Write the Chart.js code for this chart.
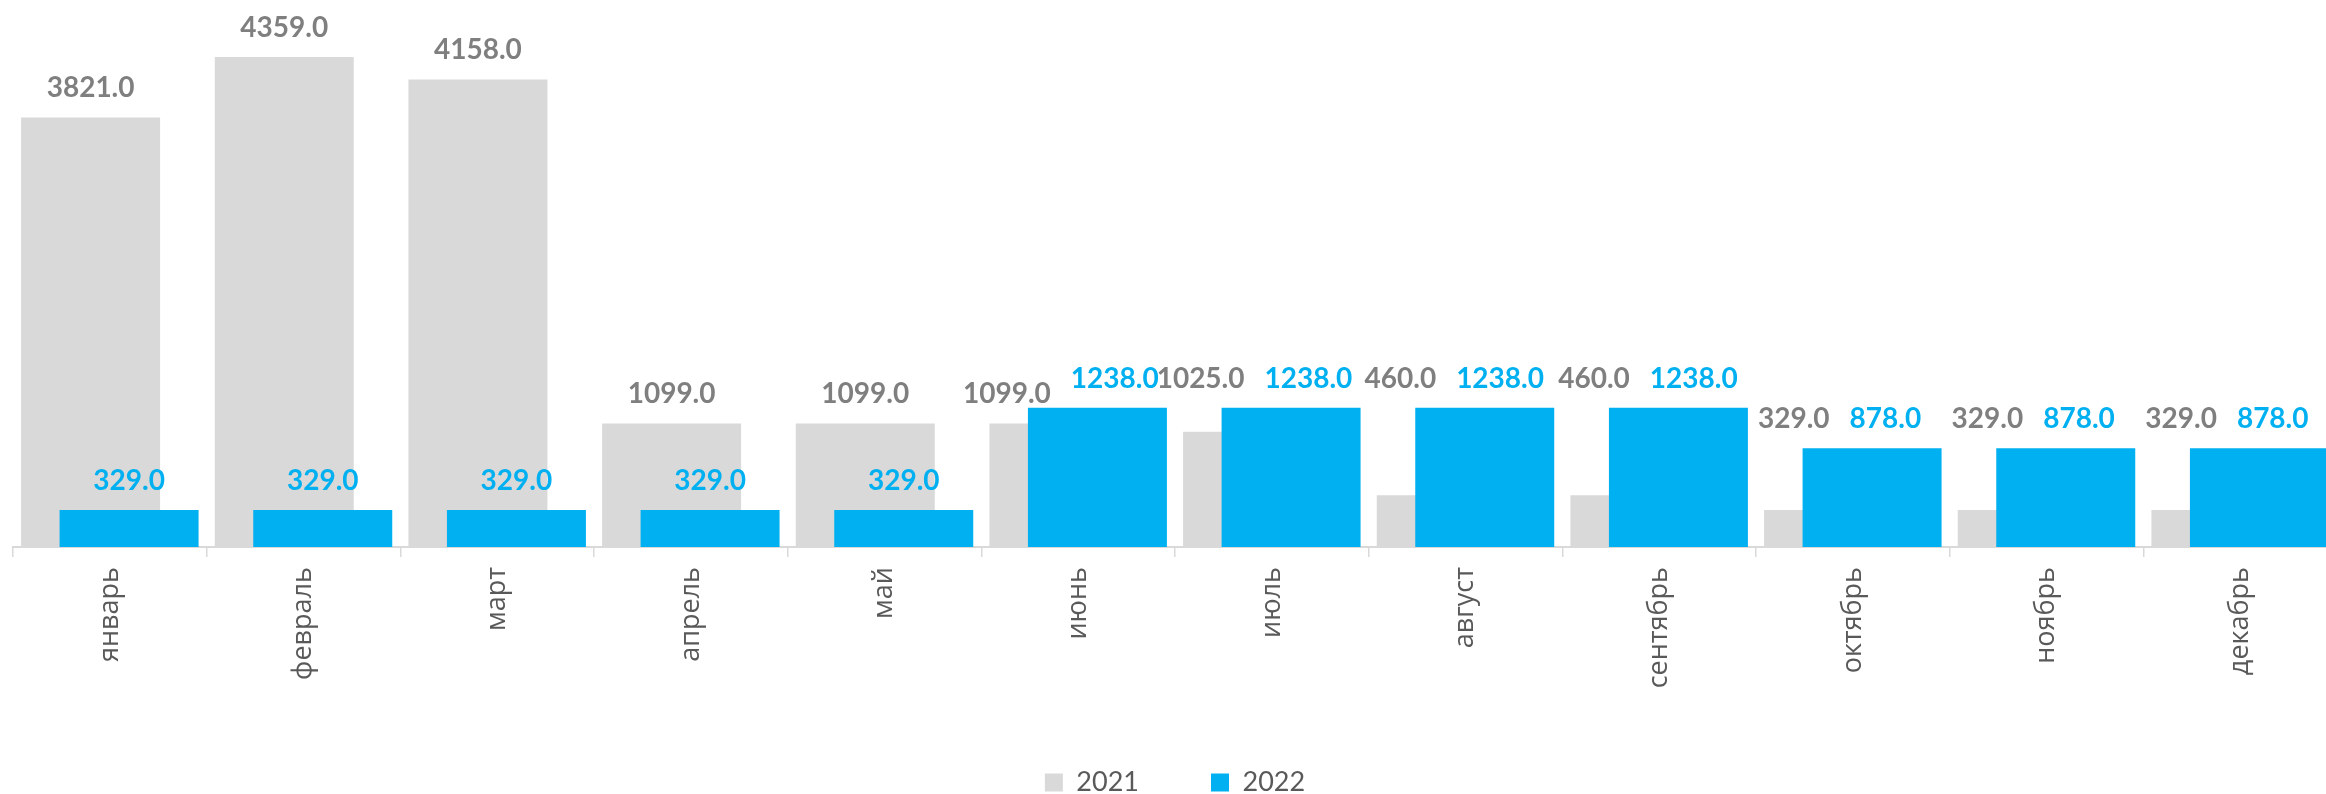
<!DOCTYPE html>
<html>
<head>
<meta charset="utf-8">
<script src="https://cdn.jsdelivr.net/npm/chart.js@4/dist/chart.umd.min.js"></script>
<style>
  html, body { margin: 0; padding: 0; background: #fff; overflow: hidden; }
  #wrap { width: 2340px; height: 794px; }
</style>
</head>
<body>
<div id="wrap"><canvas id="salesChart"></canvas></div>
<script>
  "use strict";

  // -- Data --------------------------------------------------------------
  const months = [
    "январь", "февраль", "март", "апрель", "май", "июнь",
    "июль", "август", "сентябрь", "октябрь", "ноябрь", "декабрь",
  ];
  const values2021 = [3821, 4359, 4158, 1099, 1099, 1099, 1025, 460, 460, 329, 329, 329];
  const values2022 = [329, 329, 329, 329, 329, 1238, 1238, 1238, 1238, 878, 878, 878];
  const seriesNames = ["2021", "2022"];

  const GRAY = "#D9D9D9";
  const BLUE = "#00B0F0";
  const LABEL_GAP = 20;   // baseline distance above bar top
  const LABEL_H = 24;     // rough glyph height used for overlap tests
  const LABEL_SPACE = 20; // horizontal gap between colliding labels

  const fmt = (v) => v.toFixed(1);

  /** Chart.js paints dataset 0 last (on top); Excel puts the later
   * series on top, so paint the bars ourselves in index order. */
  const paintInOrder = {
    id: "paintInOrder",
    beforeDatasetsDraw(chart) {
      chart.getDatasetMeta(0).controller.draw();
      chart.getDatasetMeta(1).controller.draw();
      return false;
    },
  };

  /** Value labels, placed roughly the way Excel does it: a 2021 label that
   * would end up beside a taller 2022 bar is lifted to the 2022 label's
   * height, and colliding labels are pushed apart sideways. */
  const barLabels = {
    id: "barLabels",
    afterDraw(chart) {
      const ctx = chart.ctx;
      const grayMeta = chart.getDatasetMeta(0);
      const blueMeta = chart.getDatasetMeta(1);
      ctx.save();
      ctx.font = "bold 28px Lato";
      ctx.textAlign = "center";
      ctx.textBaseline = "alphabetic";
      grayMeta.data.forEach((grayBar, i) => {
        const blueBar = blueMeta.data[i];
        const gText = fmt(values2021[i]);
        const bText = fmt(values2022[i]);
        const gw = ctx.measureText(gText).width;
        const bw = ctx.measureText(bText).width;
        let gx = grayBar.x;
        let gy = grayBar.y - LABEL_GAP;
        let bx = blueBar.x;
        const by = blueBar.y - LABEL_GAP;
        if (gy > blueBar.y) gy = by;
        const need = (gw + bw) / 2 + LABEL_SPACE - (bx - gx);
        if (Math.abs(gy - by) < LABEL_H && need > 0) {
          gx -= need * 0.75;
          bx += need * 0.25;
        }
        ctx.fillStyle = "#7F7F7F";
        ctx.fillText(gText, gx, gy);
        ctx.fillStyle = BLUE;
        ctx.fillText(bText, bx, by);
      });
      ctx.restore();
    },
  };

  new Chart(document.getElementById("salesChart"), {
    type: "bar",
    data: {
      labels: months,
      datasets: [
        { label: seriesNames[0], data: values2021, backgroundColor: GRAY },
        { label: seriesNames[1], data: values2022, backgroundColor: BLUE },
      ],
    },
    options: {
      animation: false,
      responsive: true,
      maintainAspectRatio: false,
      devicePixelRatio: 1,
      categoryPercentage: 0.3976,
      barPercentage: 3.61,
      layout: { padding: { left: 13, right: 3, top: 0, bottom: -12 } },
      scales: {
        x: {
          grid: {
            offset: true,
            drawOnChartArea: false,
            tickLength: 10,
            color: GRAY,
            lineWidth: 1.5,
          },
          border: { display: true, color: GRAY, width: 2 },
          ticks: {
            autoSkip: false,
            minRotation: 90,
            maxRotation: 90,
            padding: 10,
            color: "#595959",
            font: { family: "'Open Sans'", size: 27 },
          },
          afterFit(scale) {
            scale.height = 150;
          },
        },
        y: { display: false, min: 0, max: 4865 },
      },
      plugins: {
        legend: {
          position: "bottom",
          labels: {
            boxWidth: 18,
            boxHeight: 18,
            padding: 72,
            color: "#595959",
            font: { family: "Lato", size: 27 },
          },
        },
        tooltip: { enabled: false },
      },
    },
    plugins: [paintInOrder, barLabels],
  });
</script>
</body>
</html>
